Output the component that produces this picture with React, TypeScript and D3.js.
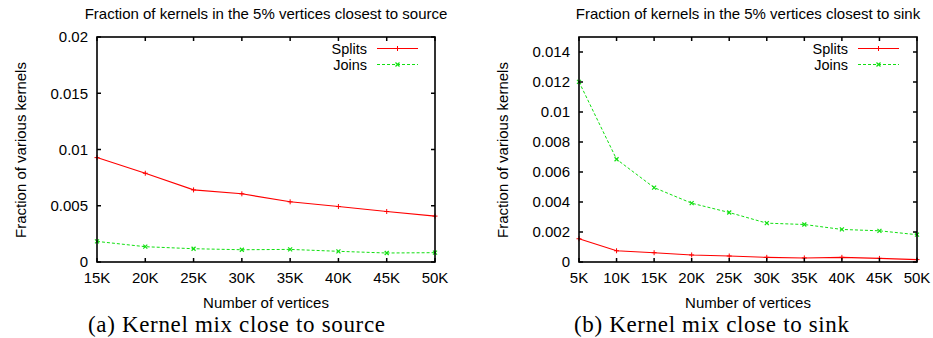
import * as d3 from "d3";

// Left panel: vertices closest to source
const sourceVertices = [15, 20, 25, 30, 35, 40, 45, 50];
const sourceSplits = [0.00928, 0.00789, 0.00641, 0.00606, 0.00535, 0.00493, 0.00449, 0.00408];
const sourceJoins = [0.00183, 0.00136, 0.00118, 0.00109, 0.00112, 0.00095, 0.0008, 0.00083];
const sourceYTicks = [0, 0.005, 0.01, 0.015, 0.02];

// Right panel: vertices closest to sink
const sinkVertices = [5, 10, 15, 20, 25, 30, 35, 40, 45, 50];
const sinkSplits = [0.00155, 0.00075, 0.00062, 0.00047, 0.0004, 0.00031, 0.00027, 0.00031, 0.00024, 0.00016];
const sinkJoins = [0.01201, 0.00685, 0.00496, 0.00392, 0.0033, 0.00259, 0.0025, 0.00217, 0.00208, 0.00182];
const sinkYTicks = [0, 0.002, 0.004, 0.006, 0.008, 0.01, 0.012, 0.014];

const SANS = "'Liberation Sans', Arial, Helvetica, sans-serif";
const SERIF = "'Liberation Serif', 'DejaVu Serif', serif";
const RED = "#ff0000";
const GREEN = "#11e011";

type PanelProps = {
  left: number;
  right: number;
  xs: number[];
  splits: number[];
  joins: number[];
  yMax: number;
  yTicks: number[];
  title: string;
  caption: string;
  titleX: number;
  captionX: number;
  captionW: number;
  legendRight: number;
};

const TOP = 37;
const BOTTOM = 262;
const TICK = 4;

function Panel(p: PanelProps) {
  const x = d3.scaleLinear().domain([p.xs[0], p.xs[p.xs.length - 1]]).range([p.left, p.right]);
  const y = d3.scaleLinear().domain([0, p.yMax]).range([BOTTOM, TOP]);
  const line = d3
    .line<number>()
    .x((_, i) => x(p.xs[i]))
    .y((d) => y(d));
  const fmtY = (v: number) => (v === 0 ? "0" : d3.format("~g")(v));
  const midX = (p.left + p.right) / 2;

  const plus = (cx: number, cy: number, k: string) => (
    <path key={k} d={`M${cx - 2.5},${cy}H${cx + 2.5}M${cx},${cy - 2.5}V${cy + 2.5}`} stroke={RED} strokeWidth={1} />
  );
  const cross = (cx: number, cy: number, k: string) => (
    <path key={k} d={`M${cx - 2},${cy - 2}L${cx + 2},${cy + 2}M${cx - 2},${cy + 2}L${cx + 2},${cy - 2}`} stroke={GREEN} strokeWidth={1.2} />
  );

  // legend rows
  const legY1 = 48.5;
  const legY2 = 64.5;
  const lx1 = p.legendRight + 10;
  const lx2 = p.legendRight + 51;

  return (
    <g fontFamily={SANS} fill="#000">
      <text x={p.titleX} y={19} textAnchor="middle" fontSize={15}>
        {p.title}
      </text>

      <path d={line(p.joins) ?? ""} fill="none" stroke={GREEN} strokeWidth={1} strokeDasharray="3,2" />
      <path d={line(p.splits) ?? ""} fill="none" stroke={RED} strokeWidth={1.1} />
      {p.joins.map((v, i) => cross(x(p.xs[i]), y(v), `j${i}`))}
      {p.splits.map((v, i) => plus(x(p.xs[i]), y(v), `s${i}`))}

      {p.xs.map((v) => (
        <g key={`xt${v}`}>
          <line x1={x(v)} x2={x(v)} y1={BOTTOM} y2={BOTTOM - TICK} stroke="#000" strokeWidth={1.5} />
          <line x1={x(v)} x2={x(v)} y1={TOP} y2={TOP + TICK} stroke="#000" strokeWidth={1.5} />
          <text x={x(v)} y={282.5} textAnchor="middle" fontSize={15}>
            {`${v}K`}
          </text>
        </g>
      ))}
      {p.yTicks.map((v) => (
        <g key={`yt${v}`}>
          <line x1={p.left} x2={p.left + TICK} y1={y(v)} y2={y(v)} stroke="#000" strokeWidth={1.5} />
          <line x1={p.right} x2={p.right - TICK} y1={y(v)} y2={y(v)} stroke="#000" strokeWidth={1.5} />
          <text x={p.left - 9} y={y(v) + 5.3} textAnchor="end" fontSize={15}>
            {fmtY(v)}
          </text>
        </g>
      ))}

      <rect x={p.left} y={TOP} width={p.right - p.left} height={BOTTOM - TOP} fill="none" stroke="#000" strokeWidth={1.6} />

      {/* legend */}
      <text x={p.legendRight} y={legY1 + 5} textAnchor="end" fontSize={14.5}>
        Splits
      </text>
      <line x1={lx1} x2={lx2} y1={legY1} y2={legY1} stroke={RED} strokeWidth={1.1} />
      {plus((lx1 + lx2) / 2, legY1, "ls")}
      <text x={p.legendRight} y={legY2 + 5} textAnchor="end" fontSize={14.5}>
        Joins
      </text>
      <line x1={lx1} x2={lx2} y1={legY2} y2={legY2} stroke={GREEN} strokeWidth={1} strokeDasharray="3,2" />
      {cross((lx1 + lx2) / 2, legY2, "lj")}

      <text x={midX} y={307.5} textAnchor="middle" fontSize={15}>
        Number of vertices
      </text>
      <text
        transform={`translate(${p.left - 71},${(TOP + BOTTOM) / 2 + 0.5}) rotate(-90)`}
        textAnchor="middle"
        fontSize={15}
      >
        Fraction of various kernels
      </text>

      <text
        x={p.captionX}
        y={332}
        fontSize={23}
        fontFamily={SERIF}
        textLength={p.captionW}
        lengthAdjust="spacing"
      >
        {p.caption}
      </text>
    </g>
  );
}

export default function App() {
  return (
    <svg width={933} height={338} style={{ display: "block", position: "absolute", left: 0, top: 0, background: "#fff" }}>
      <rect width={933} height={338} fill="#fff" />
      <Panel
        left={97}
        right={435}
        xs={sourceVertices}
        splits={sourceSplits}
        joins={sourceJoins}
        yMax={0.02}
        yTicks={sourceYTicks}
        title="Fraction of kernels in the 5% vertices closest to source"
        caption="(a) Kernel mix close to source"
        titleX={266}
        captionX={88}
        captionW={297}
        legendRight={367}
      />
      <Panel
        left={579}
        right={917}
        xs={sinkVertices}
        splits={sinkSplits}
        joins={sinkJoins}
        yMax={0.015}
        yTicks={sinkYTicks}
        title="Fraction of kernels in the 5% vertices closest to sink"
        caption="(b) Kernel mix close to sink"
        titleX={748}
        captionX={574}
        captionW={275}
        legendRight={848}
      />
    </svg>
  );
}
